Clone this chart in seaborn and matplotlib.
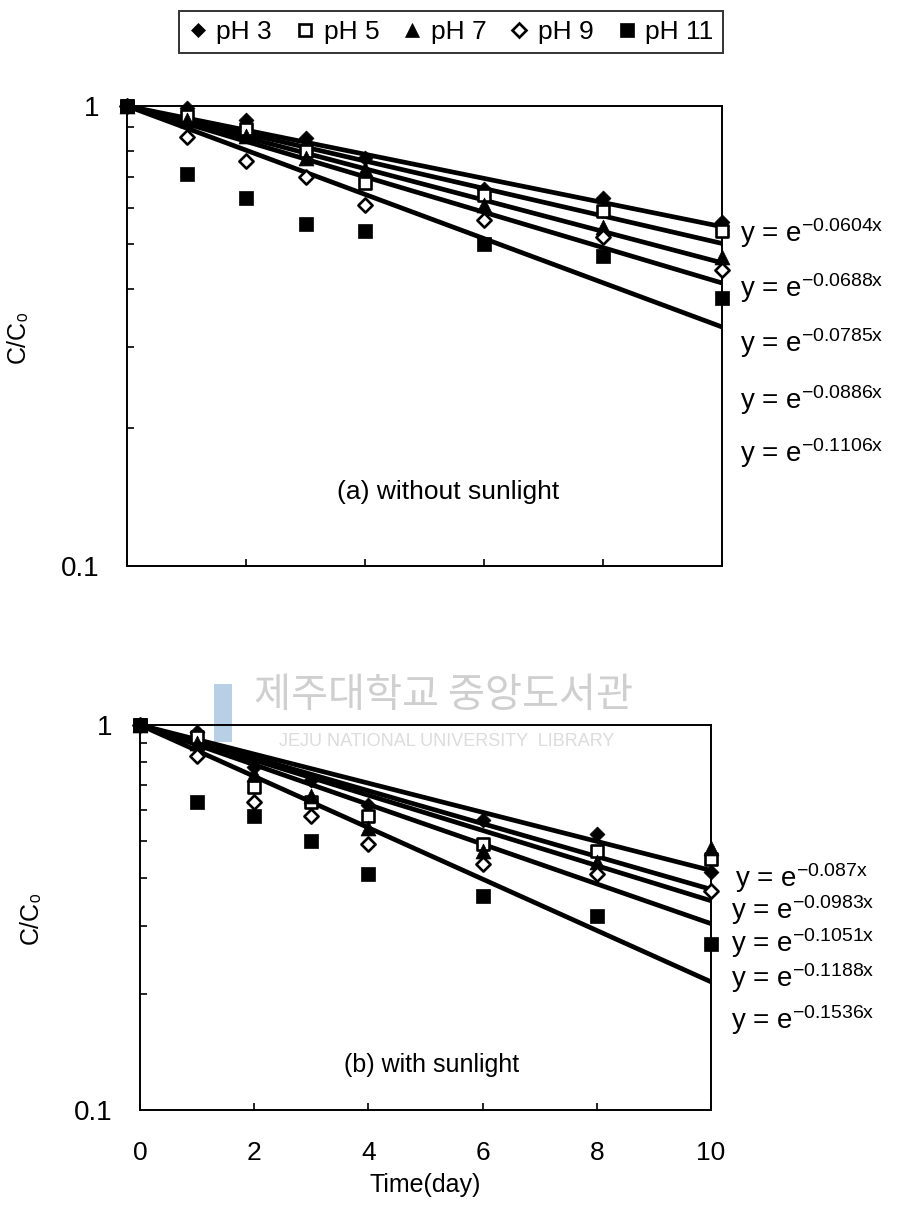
import numpy as np
import pandas as pd
import matplotlib
matplotlib.use("Agg")
import matplotlib.pyplot as plt
import seaborn as sns
from matplotlib.lines import Line2D
from matplotlib.patches import Rectangle

# ---------------- data ----------------
days = [0, 1, 2, 3, 4, 6, 8, 10]
series_labels = ["pH 3", "pH 5", "pH 7", "pH 9", "pH 11"]

# (a) without sunlight
dark_ph3 = [1.0, 0.99, 0.93, 0.85, 0.77, 0.66, 0.63, 0.56]
dark_ph5 = [1.0, 0.95, 0.89, 0.80, 0.68, 0.64, 0.59, 0.535]
dark_ph7 = [1.0, 0.93, 0.86, 0.77, 0.73, 0.61, 0.545, 0.47]
dark_ph9 = [1.0, 0.855, 0.76, 0.70, 0.61, 0.565, 0.52, 0.44]
dark_ph11 = [1.0, 0.71, 0.63, 0.555, 0.535, 0.50, 0.473, 0.383]
dark_k = [0.0604, 0.0688, 0.0785, 0.0886, 0.1106]
dark_eq = ["-0.0604x", "-0.0688x", "-0.0785x", "-0.0886x", "-0.1106x"]

# (b) with sunlight
sun_ph3 = [1.0, 0.96, 0.78, 0.72, 0.62, 0.565, 0.52, 0.415]
sun_ph5 = [1.0, 0.93, 0.69, 0.63, 0.58, 0.49, 0.47, 0.45]
sun_ph7 = [1.0, 0.90, 0.745, 0.655, 0.54, 0.47, 0.44, 0.48]
sun_ph9 = [1.0, 0.83, 0.63, 0.58, 0.49, 0.435, 0.41, 0.37]
sun_ph11 = [1.0, 0.63, 0.58, 0.50, 0.41, 0.36, 0.32, 0.27]
sun_k = [0.087, 0.0983, 0.1051, 0.1188, 0.1536]
sun_eq = ["-0.087x", "-0.0983x", "-0.1051x", "-0.1188x", "-0.1536x"]

fit_days = [0, 10]

x_ticks = [0, 2, 4, 6, 8, 10]
y_tick_vals = [0.1, 1]
y_tick_text = ["0.1", "1"]

# ---------------- styling ----------------
sns.set_theme(style="white")
plt.rcParams['font.family'] = ['Liberation Sans', 'DejaVu Sans']
plt.rcParams['mathtext.default'] = 'regular'
plt.rcParams['text.color'] = 'black'
plt.rcParams['axes.labelcolor'] = 'black'
plt.rcParams['xtick.color'] = 'black'
plt.rcParams['ytick.color'] = 'black'

marker_style = {
    "pH 3": dict(marker="D", s=58, color="black", linewidth=0.5),
    "pH 5": dict(marker="s", s=78, color="white", linewidth=1.9),
    "pH 7": dict(marker="^", s=115, color="black", linewidth=0.5),
    "pH 9": dict(marker="D", s=52, color="white", linewidth=1.9),
    "pH 11": dict(marker="s", s=115, color="black", linewidth=0.5),
}

def long_df(series):
    rows = []
    for lab, vals in zip(series_labels, series):
        for d, v in zip(days, vals):
            rows.append({"day": d, "C": v, "pH": lab})
    return pd.DataFrame(rows)

def fit_df(ks):
    rows = []
    for lab, k in zip(series_labels, ks):
        for d in fit_days:
            rows.append({"day": d, "C": float(np.exp(-k * d)), "pH": lab})
    return pd.DataFrame(rows)

W, H = 906, 1208
fig = plt.figure(figsize=(W / 100, H / 100), dpi=100)

ax1 = fig.add_axes([127 / W, 1 - 566 / H, (722 - 127) / W, (566 - 106) / H])
ax2 = fig.add_axes([140 / W, 1 - 1110 / H, (711 - 140) / W, (1110 - 725) / H])

panels = [
    (ax1, long_df([dark_ph3, dark_ph5, dark_ph7, dark_ph9, dark_ph11]), fit_df(dark_k)),
    (ax2, long_df([sun_ph3, sun_ph5, sun_ph7, sun_ph9, sun_ph11]), fit_df(sun_k)),
]

for ax, pts, fits in panels:
    ax.set_facecolor("none")
    ax.set_yscale("log")
    for lab in series_labels:
        sub = fits[fits.pH == lab]
        sns.lineplot(data=sub, x="day", y="C", ax=ax, color="black",
                     linewidth=3.4, legend=False, zorder=2)
    for lab in series_labels:
        sub = pts[pts.pH == lab]
        st = marker_style[lab]
        sns.scatterplot(data=sub, x="day", y="C", ax=ax, marker=st["marker"],
                        s=st["s"], color=st["color"], edgecolor="black",
                        linewidth=st["linewidth"], legend=False, zorder=3,
                        clip_on=False)
    ax.set_xlim(0, 10)
    ax.set_ylim(0.1, 1)
    ax.set_xlabel("")
    ax.set_ylabel("C/C\u2080", fontsize=18, labelpad=22)
    ax.set_yticks(y_tick_vals)
    ax.set_yticklabels(y_tick_text, fontsize=20)
    ax.yaxis.set_minor_locator(matplotlib.ticker.FixedLocator(
        [0.2, 0.3, 0.4, 0.5, 0.6, 0.7, 0.8, 0.9]))
    ax.yaxis.set_minor_formatter(matplotlib.ticker.NullFormatter())
    ax.tick_params(axis="y", which="major", length=0, pad=20)
    ax.tick_params(axis="y", which="minor", direction="in", length=5,
                   width=1.2, color="black", left=True)
    ax.set_xticks(x_ticks)
    ax.tick_params(axis="x", which="major", direction="in", length=5,
                   width=1.2, color="black", bottom=True, pad=22)
    for sp in ax.spines.values():
        sp.set_color("black")
        sp.set_linewidth(1.4)

ax1.tick_params(axis="x", labelbottom=False)
ax2.set_xticklabels([str(t) for t in x_ticks], fontsize=19)
ax2.set_xlabel("Time(day)", fontsize=18, labelpad=6)

ax1.text(5.4, 0.145, "(a) without sunlight", ha="center", va="center",
         fontsize=19)
ax2.text(5.1, 0.131, "(b) with sunlight", ha="center", va="center",
         fontsize=18)

# equations
for eq, ypx in zip(dark_eq, [233, 288, 343, 400, 453]):
    fig.text(740 / W, 1 - ypx / H, "y = e$^{" + eq.replace("-", "\u2212") + "}$",
             fontsize=20, va="center", ha="left")
for eq, ypx, xpx in zip(sun_eq, [878, 910, 943, 978, 1020],
                        [735, 731, 731, 731, 731]):
    fig.text(xpx / W, 1 - ypx / H, "y = e$^{" + eq.replace("-", "\u2212") + "}$",
             fontsize=20, va="center", ha="left")

# legend
handles = []
for lab in series_labels:
    st = marker_style[lab]
    handles.append(Line2D([], [], linestyle="none", marker=st["marker"],
                          markersize=np.sqrt(st["s"]) * 0.95,
                          markerfacecolor=st["color"],
                          markeredgecolor="black",
                          markeredgewidth=st["linewidth"]))
leg = fig.legend(handles, series_labels, loc="center",
                 bbox_to_anchor=(451 / W, 1 - 32 / H), ncol=5, fontsize=19,
                 frameon=True, fancybox=False, edgecolor="black",
                 handlelength=0.7, handletextpad=0.35, columnspacing=0.9,
                 borderpad=0.35, borderaxespad=0)
leg.get_frame().set_linewidth(1.4)

# watermark
fig.text(443 / W, 1 - 695 / H, "제주대학교 중앙도서관", ha="center", va="center",
         fontsize=29, color="#cfcfcf", family=["Noto Sans CJK KR"], zorder=-5)
fig.text(447 / W, 1 - 741 / H, "JEJU NATIONAL UNIVERSITY  LIBRARY",
         ha="center", va="center", fontsize=13, color="#dcdcdc", zorder=-5)
fig.patches.append(Rectangle((214 / W, 1 - 742 / H), 18 / W, 58 / H,
                             transform=fig.transFigure, facecolor="#b9cfe6",
                             edgecolor="none", zorder=-5))

fig.savefig("out.png", dpi=100, facecolor="white")
